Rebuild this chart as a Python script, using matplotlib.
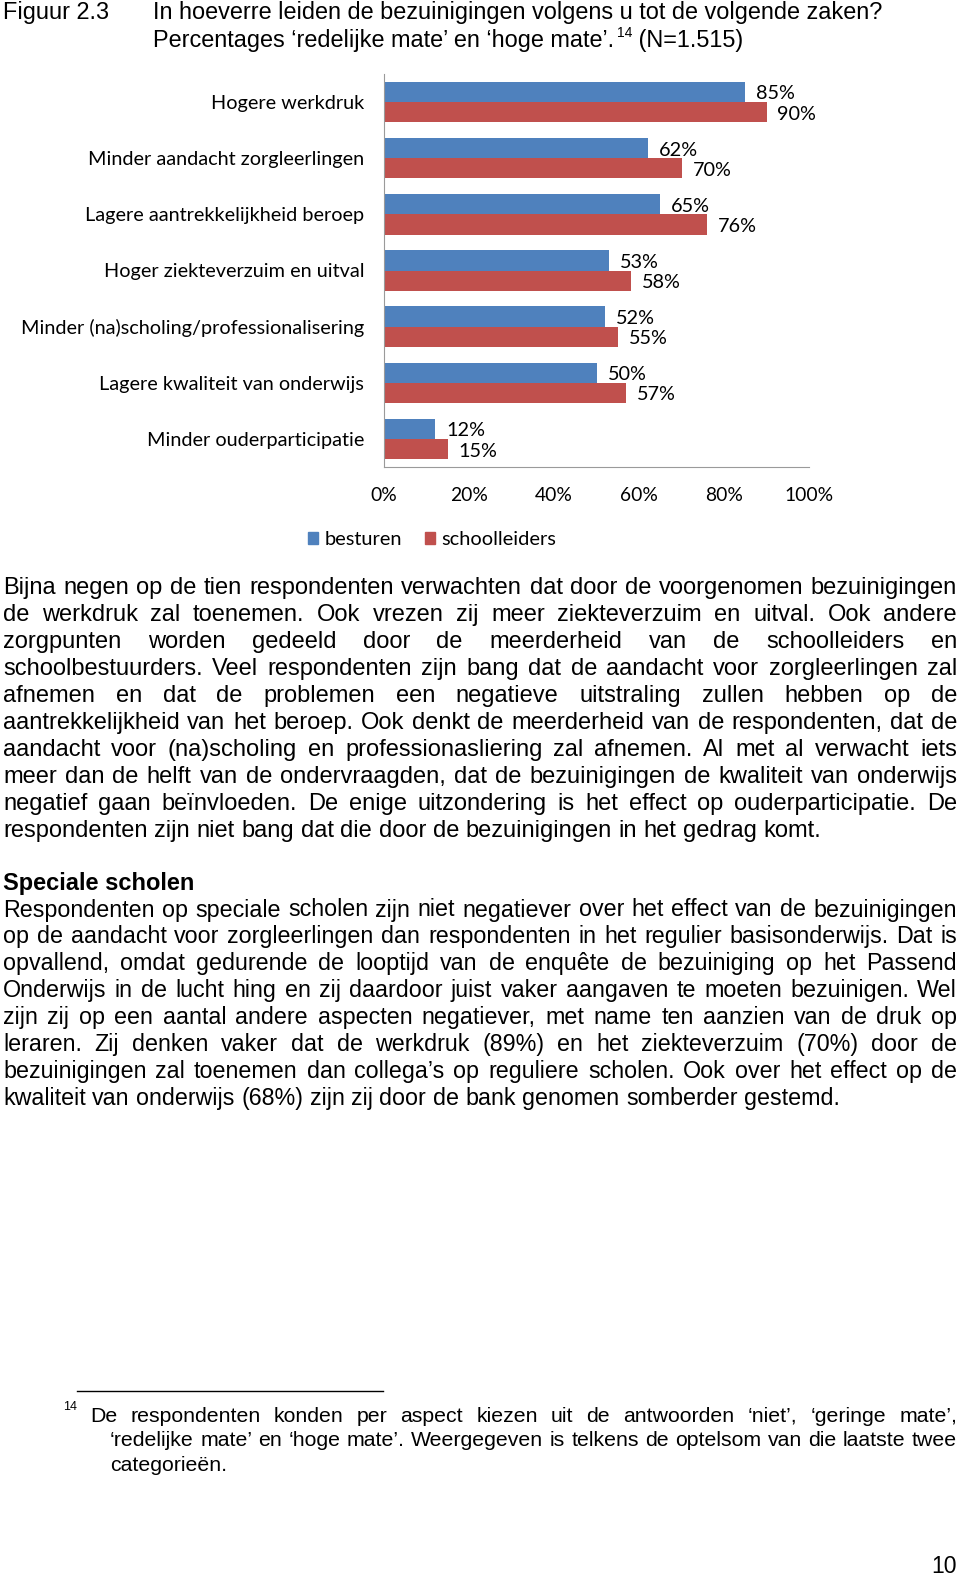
import numpy as np
import matplotlib.pyplot as plt
from matplotlib.patches import Patch

W, H = 960, 1577

categories = [
    "Hogere werkdruk",
    "Minder aandacht zorgleerlingen",
    "Lagere aantrekkelijkheid beroep",
    "Hoger ziekteverzuim en uitval",
    "Minder (na)scholing/professionalisering",
    "Lagere kwaliteit van onderwijs",
    "Minder ouderparticipatie",
]
besturen = [85, 62, 65, 53, 52, 50, 12]
schoolleiders = [90, 70, 76, 58, 55, 57, 15]
x_ticks = [0, 20, 40, 60, 80, 100]
legend_labels = ["besturen", "schoolleiders"]

figure_label = "Figuur 2.3"
title_line_1 = "In hoeverre leiden de bezuinigingen volgens u tot de volgende zaken?"
title_line_2 = "Percentages ‘redelijke mate’ en ‘hoge mate’."
title_note = "14"
title_tail = " (N=1.515)"

paragraph_1 = [
    "Bijna negen op de tien respondenten verwachten dat door de voorgenomen bezuinigingen",
    "de werkdruk zal toenemen. Ook vrezen zij meer ziekteverzuim en uitval. Ook andere",
    "zorgpunten worden gedeeld door de meerderheid van de schoolleiders en",
    "schoolbestuurders. Veel respondenten zijn bang dat de aandacht voor zorgleerlingen zal",
    "afnemen en dat de problemen een negatieve uitstraling zullen hebben op de",
    "aantrekkelijkheid van het beroep. Ook denkt de meerderheid van de respondenten, dat de",
    "aandacht voor (na)scholing en professionasliering zal afnemen. Al met al verwacht iets",
    "meer dan de helft van de ondervraagden, dat de bezuinigingen de kwaliteit van onderwijs",
    "negatief gaan beïnvloeden. De enige uitzondering is het effect op ouderparticipatie. De",
    "respondenten zijn niet bang dat die door de bezuinigingen in het gedrag komt.",
]
heading = "Speciale scholen"
paragraph_2 = [
    "Respondenten op speciale scholen zijn niet negatiever over het effect van de bezuinigingen",
    "op de aandacht voor zorgleerlingen dan respondenten in het regulier basisonderwijs. Dat is",
    "opvallend, omdat gedurende de looptijd van de enquête de bezuiniging op het Passend",
    "Onderwijs  in de lucht hing en zij daardoor juist vaker aangaven te moeten bezuinigen. Wel",
    "zijn zij op een aantal andere aspecten negatiever, met name ten aanzien van de druk op",
    "leraren. Zij denken vaker dat de werkdruk (89%) en het ziekteverzuim (70%) door de",
    "bezuinigingen zal toenemen dan collega’s op reguliere scholen. Ook over het effect op de",
    "kwaliteit van onderwijs (68%) zijn zij door de bank genomen somberder gestemd.",
]
footnote_mark = "14"
footnote_lines = [
    "De respondenten konden per aspect kiezen uit de antwoorden ‘niet’, ‘geringe mate’,",
    "‘redelijke mate’ en ‘hoge mate’. Weergegeven is telkens de optelsom van die laatste twee",
    "categorieën.",
]
page_number = "10"

BLUE = "#4f81bd"
RED = "#c0504d"
BODY = ["Liberation Sans", "DejaVu Sans"]
CHART = ["Lato", "DejaVu Sans"]


def fx(x):
    return x / W


def fy(y):
    return 1 - y / H


def put(fig, x, y, s, **kw):
    return fig.text(fx(x), fy(y), s, va="baseline", **kw)


def width_of(fig, renderer, s, **kw):
    t = fig.text(0, 0, s, **kw)
    w = t.get_window_extent(renderer).width
    t.remove()
    return w


def justify(fig, renderer, line, x0, x1, y, last=False, **kw):
    words = line.split()
    texts = [put(fig, x0, y, w, **kw) for w in words]
    widths = [t.get_window_extent(renderer).width for t in texts]
    space = width_of(fig, renderer, "a a", **kw) - width_of(fig, renderer, "aa", **kw)
    if last or len(words) == 1:
        gap = space
    else:
        gap = (x1 - x0 - sum(widths)) / (len(words) - 1)
    x = x0
    for t, w in zip(texts, widths):
        t.set_x(fx(x))
        x += w + gap


fig = plt.figure(figsize=(W / 100, H / 100), dpi=100)
renderer = fig.canvas.get_renderer()

# titel
TS = 16.9
put(fig, 3, 19.5, figure_label, family=BODY, fontsize=TS)
put(fig, 153, 19.5, title_line_1, family=BODY, fontsize=TS)
t2 = put(fig, 153, 46.5, title_line_2, family=BODY, fontsize=TS)
x_end = 153 + t2.get_window_extent(renderer).width
n = put(fig, x_end + 3, 37, title_note, family=BODY, fontsize=10)
x_end = x_end + 3 + n.get_window_extent(renderer).width
put(fig, x_end, 46.5, title_tail, family=BODY, fontsize=TS)

# grafiek
ax = fig.add_axes([fx(384), fy(467), 425 / W, 393 / H])
y = np.arange(len(categories))
h = 0.36
ax.barh(y - h / 2, besturen, height=h, color=BLUE)
ax.barh(y + h / 2, schoolleiders, height=h, color=RED)
for yi, v in zip(y - h / 2, besturen):
    ax.annotate(f"{v}%", (v, yi), xytext=(11, -2), textcoords="offset pixels",
                va="center", ha="left", family=CHART, fontsize=14.3)
for yi, v in zip(y + h / 2, schoolleiders):
    ax.annotate(f"{v}%", (v, yi), xytext=(11, -2), textcoords="offset pixels",
                va="center", ha="left", family=CHART, fontsize=14.3)
ax.set_xlim(0, 100)
ax.set_ylim(len(categories) - 0.5, -0.5)
ax.set_xticks(x_ticks, [f"{t}%" for t in x_ticks], family=CHART, fontsize=13.9)
ax.set_yticks(y, categories, family=CHART, fontsize=14.3)
ax.tick_params(axis="x", length=0, pad=14.5)
ax.tick_params(axis="y", length=0, pad=14.4)
for s in ["top", "right"]:
    ax.spines[s].set_visible(False)
for s in ["left", "bottom"]:
    ax.spines[s].set_color("#9a9a9a")
ax.patch.set_alpha(0)

handles = [Patch(color=BLUE), Patch(color=RED)]
fig.legend(handles, legend_labels, loc="center", bbox_to_anchor=(fx(432), fy(539.5)),
           ncol=2, frameon=False, prop={"family": CHART, "size": 14.4},
           handlelength=0.5, handleheight=0.5, handletextpad=0.3, columnspacing=1.15)

# tekst
for i, line in enumerate(paragraph_1):
    justify(fig, renderer, line, 3, 957, 594 + i * 26.95,
            last=(i == len(paragraph_1) - 1), family=BODY, fontsize=17.0)

put(fig, 3, 889.5, heading, family=BODY, fontsize=17.0, weight="bold")
for i, line in enumerate(paragraph_2):
    justify(fig, renderer, line, 3, 957, 916.5 + i * 26.95,
            last=(i == len(paragraph_2) - 1), family=BODY, fontsize=16.75)

# voetnoot
fig.add_artist(plt.Line2D([fx(77), fx(383)], [fy(1391), fy(1391)], color="black", lw=1))
put(fig, 63, 1410, footnote_mark, family=BODY, fontsize=9)
foot_x = [90, 110, 110]
for i, line in enumerate(footnote_lines):
    justify(fig, renderer, line, foot_x[i], 957, 1421.5 + i * 24.6,
            last=(i == len(footnote_lines) - 1), family=BODY, fontsize=15.3)

put(fig, 957, 1573, page_number, family=BODY, fontsize=16.5, ha="right")

fig.savefig("out.png", dpi=100)
